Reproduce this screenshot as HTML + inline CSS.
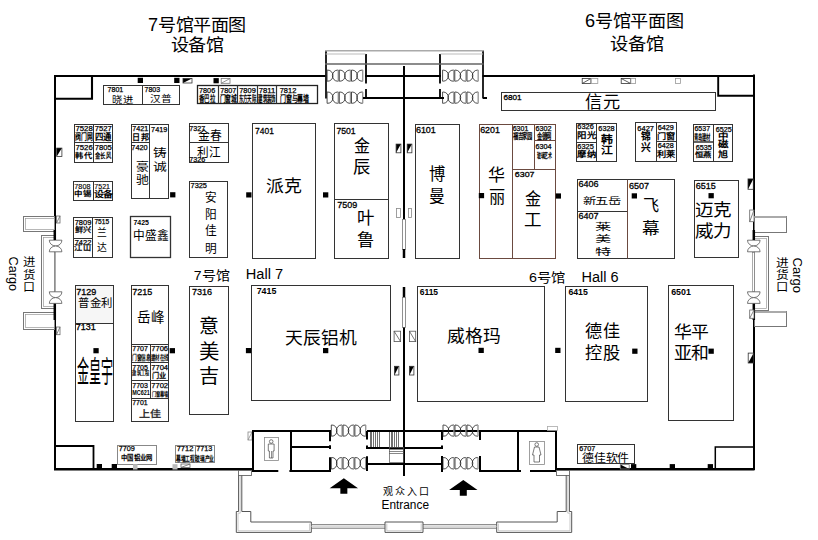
<!DOCTYPE html>
<html lang="zh-CN"><head><meta charset="utf-8"><style>
html,body{margin:0;padding:0;background:#fff;}
svg{display:block;}
text{font-family:"Liberation Sans",sans-serif;}
</style></head><body>
<svg width="818" height="540" viewBox="0 0 818 540">
<rect width="818" height="540" fill="#fff"/>
<text x="148.12" y="31.27" font-size="17.5" font-weight="500" fill="#000" textLength="97.75" lengthAdjust="spacingAndGlyphs">7号馆平面图</text>
<text x="170.62" y="51.27" font-size="17.5" font-weight="500" fill="#000" textLength="52.75" lengthAdjust="spacingAndGlyphs">设备馆</text>
<text x="585.12" y="27.27" font-size="17.5" font-weight="500" fill="#000" textLength="98.25" lengthAdjust="spacingAndGlyphs">6号馆平面图</text>
<text x="610.12" y="50.27" font-size="17.5" font-weight="500" fill="#000" textLength="53.25" lengthAdjust="spacingAndGlyphs">设备馆</text>
<line x1="326" y1="50.5" x2="326" y2="98.5" stroke="#000" stroke-width="1.7" />
<line x1="483" y1="50.5" x2="483" y2="98.5" stroke="#000" stroke-width="1.7" />
<line x1="366" y1="54" x2="366" y2="83.5" stroke="#000" stroke-width="1.8" />
<line x1="366" y1="89" x2="366" y2="98.5" stroke="#000" stroke-width="1.8" />
<line x1="440" y1="54" x2="440" y2="83.5" stroke="#000" stroke-width="1.8" />
<line x1="440" y1="89" x2="440" y2="98.5" stroke="#000" stroke-width="1.8" />
<line x1="325" y1="50.8" x2="483.5" y2="50.8" stroke="#aaa" stroke-width="1.6"/>
<line x1="325.6" y1="54" x2="365.5" y2="54" stroke="#bbb" stroke-width="1"/>
<line x1="440.5" y1="54" x2="483" y2="54" stroke="#bbb" stroke-width="1"/>
<line x1="325" y1="64" x2="483.5" y2="64" stroke="#666" stroke-width="1.5"/>
<path d="M327.10,70.1 H327.77 A5.23,5.55 0 0 1 327.77,81.19999999999999 H327.10 Z" fill="none" stroke="#222" stroke-width="0.8"/>
<path d="M338.30,70.1 H337.63 A5.23,5.55 0 0 0 337.63,81.19999999999999 H338.30" fill="none" stroke="#222" stroke-width="0.8"/>
<line x1="338.30" y1="70.1" x2="338.30" y2="81.19999999999999" stroke="#999" stroke-width="1.4"/>
<path d="M339.30,70.1 H339.97 A5.23,5.55 0 0 1 339.97,81.19999999999999 H339.30 Z" fill="none" stroke="#222" stroke-width="0.8"/>
<path d="M350.50,70.1 H349.83 A5.23,5.55 0 0 0 349.83,81.19999999999999 H350.50" fill="none" stroke="#222" stroke-width="0.8"/>
<line x1="350.50" y1="70.1" x2="350.50" y2="81.19999999999999" stroke="#999" stroke-width="1.4"/>
<path d="M351.50,70.1 H352.17 A5.23,5.55 0 0 1 352.17,81.19999999999999 H351.50 Z" fill="none" stroke="#222" stroke-width="0.8"/>
<path d="M362.70,70.1 H362.03 A5.23,5.55 0 0 0 362.03,81.19999999999999 H362.70" fill="none" stroke="#222" stroke-width="0.8"/>
<line x1="362.70" y1="70.1" x2="362.70" y2="81.19999999999999" stroke="#999" stroke-width="1.4"/>
<path d="M327.10,92 H327.77 A5.23,5.65 0 0 1 327.77,103.3 H327.10 Z" fill="none" stroke="#222" stroke-width="0.8"/>
<path d="M338.30,92 H337.63 A5.23,5.65 0 0 0 337.63,103.3 H338.30" fill="none" stroke="#222" stroke-width="0.8"/>
<line x1="338.30" y1="92" x2="338.30" y2="103.3" stroke="#999" stroke-width="1.4"/>
<path d="M339.30,92 H339.97 A5.23,5.65 0 0 1 339.97,103.3 H339.30 Z" fill="none" stroke="#222" stroke-width="0.8"/>
<path d="M350.50,92 H349.83 A5.23,5.65 0 0 0 349.83,103.3 H350.50" fill="none" stroke="#222" stroke-width="0.8"/>
<line x1="350.50" y1="92" x2="350.50" y2="103.3" stroke="#999" stroke-width="1.4"/>
<path d="M351.50,92 H352.17 A5.23,5.65 0 0 1 352.17,103.3 H351.50 Z" fill="none" stroke="#222" stroke-width="0.8"/>
<path d="M362.70,92 H362.03 A5.23,5.65 0 0 0 362.03,103.3 H362.70" fill="none" stroke="#222" stroke-width="0.8"/>
<line x1="362.70" y1="92" x2="362.70" y2="103.3" stroke="#999" stroke-width="1.4"/>
<path d="M442.60,70.1 H443.27 A5.23,5.55 0 0 1 443.27,81.19999999999999 H442.60 Z" fill="none" stroke="#222" stroke-width="0.8"/>
<path d="M453.80,70.1 H453.13 A5.23,5.55 0 0 0 453.13,81.19999999999999 H453.80" fill="none" stroke="#222" stroke-width="0.8"/>
<line x1="453.80" y1="70.1" x2="453.80" y2="81.19999999999999" stroke="#999" stroke-width="1.4"/>
<path d="M454.80,70.1 H455.47 A5.23,5.55 0 0 1 455.47,81.19999999999999 H454.80 Z" fill="none" stroke="#222" stroke-width="0.8"/>
<path d="M466.00,70.1 H465.33 A5.23,5.55 0 0 0 465.33,81.19999999999999 H466.00" fill="none" stroke="#222" stroke-width="0.8"/>
<line x1="466.00" y1="70.1" x2="466.00" y2="81.19999999999999" stroke="#999" stroke-width="1.4"/>
<path d="M467.00,70.1 H467.67 A5.23,5.55 0 0 1 467.67,81.19999999999999 H467.00 Z" fill="none" stroke="#222" stroke-width="0.8"/>
<path d="M478.20,70.1 H477.53 A5.23,5.55 0 0 0 477.53,81.19999999999999 H478.20" fill="none" stroke="#222" stroke-width="0.8"/>
<line x1="478.20" y1="70.1" x2="478.20" y2="81.19999999999999" stroke="#999" stroke-width="1.4"/>
<path d="M442.60,92 H443.27 A5.23,5.65 0 0 1 443.27,103.3 H442.60 Z" fill="none" stroke="#222" stroke-width="0.8"/>
<path d="M453.80,92 H453.13 A5.23,5.65 0 0 0 453.13,103.3 H453.80" fill="none" stroke="#222" stroke-width="0.8"/>
<line x1="453.80" y1="92" x2="453.80" y2="103.3" stroke="#999" stroke-width="1.4"/>
<path d="M454.80,92 H455.47 A5.23,5.65 0 0 1 455.47,103.3 H454.80 Z" fill="none" stroke="#222" stroke-width="0.8"/>
<path d="M466.00,92 H465.33 A5.23,5.65 0 0 0 465.33,103.3 H466.00" fill="none" stroke="#222" stroke-width="0.8"/>
<line x1="466.00" y1="92" x2="466.00" y2="103.3" stroke="#999" stroke-width="1.4"/>
<path d="M467.00,92 H467.67 A5.23,5.65 0 0 1 467.67,103.3 H467.00 Z" fill="none" stroke="#222" stroke-width="0.8"/>
<path d="M478.20,92 H477.53 A5.23,5.65 0 0 0 477.53,103.3 H478.20" fill="none" stroke="#222" stroke-width="0.8"/>
<line x1="478.20" y1="92" x2="478.20" y2="103.3" stroke="#999" stroke-width="1.4"/>
<line x1="365" y1="76" x2="441" y2="76" stroke="#000" stroke-width="2" />
<line x1="363" y1="98" x2="444" y2="98" stroke="#000" stroke-width="2" />
<line x1="483" y1="98" x2="487" y2="98" stroke="#000" stroke-width="2" />
<line x1="54" y1="76" x2="325.5" y2="76" stroke="#000" stroke-width="2.2" />
<line x1="482.5" y1="76" x2="755" y2="76" stroke="#000" stroke-width="2" />
<line x1="55" y1="75" x2="55" y2="240" stroke="#000" stroke-width="2" />
<line x1="55" y1="303.8" x2="55" y2="470" stroke="#000" stroke-width="2" />
<line x1="754" y1="74.6" x2="754" y2="240" stroke="#000" stroke-width="2" />
<line x1="754" y1="303.8" x2="754" y2="470" stroke="#000" stroke-width="2" />
<rect x="53.50" y="252.50" width="2.00" height="39.00" fill="#fff" stroke="#888" stroke-width="0.7" />
<rect x="752.50" y="252.50" width="2.00" height="39.00" fill="#fff" stroke="#888" stroke-width="0.7" />
<line x1="54" y1="469.2" x2="252.7" y2="469.2" stroke="#000" stroke-width="2.5" />
<line x1="556" y1="469.2" x2="754.5" y2="469.2" stroke="#000" stroke-width="2.5" />
<polyline points="92,76 92,98.8 55,98.8" fill="none" stroke="#000" stroke-width="2.1"/>
<polyline points="718.2,75.6 718.2,95.7 754,95.7" fill="none" stroke="#000" stroke-width="1.9"/>
<polyline points="55,446 93.5,446 93.5,469" fill="none" stroke="#000" stroke-width="1.8"/>
<polyline points="753.5,447 715.3,447 715.3,469" fill="none" stroke="#000" stroke-width="1.5"/>
<rect x="23.50" y="216.50" width="31.00" height="15.00" fill="#fff" stroke="#777" stroke-width="1" />
<rect x="25.50" y="218.50" width="29.00" height="11.00" fill="none" stroke="#999" stroke-width="0.7" />
<rect x="41.50" y="235.50" width="13.00" height="73.00" fill="#fff" stroke="#777" stroke-width="1" />
<rect x="43.50" y="237.50" width="11.00" height="69.00" fill="none" stroke="#999" stroke-width="0.7" />
<rect x="23.50" y="312.50" width="31.00" height="17.00" fill="#fff" stroke="#777" stroke-width="1" />
<rect x="25.50" y="314.50" width="29.00" height="13.00" fill="none" stroke="#999" stroke-width="0.7" />
<path d="M49.300000000000004,240.2 L61.9,240.2 A6.30,5.80 0 0 1 49.300000000000004,240.2 Z" fill="#fff" stroke="#555" stroke-width="0.8"/>
<path d="M49.300000000000004,251.79999999999998 L61.9,251.79999999999998 A6.30,5.80 0 0 0 49.300000000000004,251.79999999999998 Z" fill="#fff" stroke="#555" stroke-width="0.8"/>
<path d="M49.300000000000004,291.8 L61.9,291.8 A6.30,5.80 0 0 1 49.300000000000004,291.8 Z" fill="#fff" stroke="#555" stroke-width="0.8"/>
<path d="M49.300000000000004,303.40000000000003 L61.9,303.40000000000003 A6.30,5.80 0 0 0 49.300000000000004,303.40000000000003 Z" fill="#fff" stroke="#555" stroke-width="0.8"/>
<text x="22.82" y="266.19" font-size="11.5" font-weight="500" fill="#000" textLength="11.85" lengthAdjust="spacingAndGlyphs">进</text>
<text x="22.82" y="278.69" font-size="11.5" font-weight="500" fill="#000" textLength="11.85" lengthAdjust="spacingAndGlyphs">货</text>
<text x="23.03" y="290.69" font-size="11.5" font-weight="500" fill="#000" textLength="11.45" lengthAdjust="spacingAndGlyphs">口</text>
<text x="0" y="0" font-size="13.5" transform="translate(9,256.6) rotate(90)" textLength="34.5" lengthAdjust="spacingAndGlyphs">Cargo</text>
<rect x="754.50" y="216.50" width="32.00" height="16.00" fill="#fff" stroke="#777" stroke-width="1" />
<line x1="754" y1="217" x2="786.3" y2="217" stroke="#aaa" stroke-width="2" />
<rect x="754.50" y="236.50" width="14.00" height="74.00" fill="#fff" stroke="#777" stroke-width="1" />
<rect x="754.50" y="238.50" width="12.00" height="70.00" fill="none" stroke="#999" stroke-width="0.7" />
<rect x="754.50" y="311.50" width="32.00" height="15.00" fill="#fff" stroke="#777" stroke-width="1" />
<line x1="754" y1="312" x2="786.3" y2="312" stroke="#aaa" stroke-width="2" />
<path d="M747.5,240.2 L760.0999999999999,240.2 A6.30,5.80 0 0 1 747.5,240.2 Z" fill="#fff" stroke="#555" stroke-width="0.8"/>
<path d="M747.5,251.79999999999998 L760.0999999999999,251.79999999999998 A6.30,5.80 0 0 0 747.5,251.79999999999998 Z" fill="#fff" stroke="#555" stroke-width="0.8"/>
<path d="M747.5,291.8 L760.0999999999999,291.8 A6.30,5.80 0 0 1 747.5,291.8 Z" fill="#fff" stroke="#555" stroke-width="0.8"/>
<path d="M747.5,303.40000000000003 L760.0999999999999,303.40000000000003 A6.30,5.80 0 0 0 747.5,303.40000000000003 Z" fill="#fff" stroke="#555" stroke-width="0.8"/>
<text x="776.02" y="266.69" font-size="11.5" font-weight="500" fill="#000" textLength="12.15" lengthAdjust="spacingAndGlyphs">进</text>
<text x="776.02" y="279.19" font-size="11.5" font-weight="500" fill="#000" textLength="12.15" lengthAdjust="spacingAndGlyphs">货</text>
<text x="776.22" y="291.00" font-size="11.5" font-weight="500" fill="#000" textLength="11.75" lengthAdjust="spacingAndGlyphs">口</text>
<text x="0" y="0" font-size="13.5" transform="translate(793,257.5) rotate(90)" textLength="35.5" lengthAdjust="spacingAndGlyphs">Cargo</text>
<line x1="54.8" y1="230" x2="54.8" y2="240" stroke="#000" stroke-width="2.5" />
<line x1="54.8" y1="303.8" x2="54.8" y2="320" stroke="#000" stroke-width="2.5" />
<line x1="753.8" y1="230" x2="753.8" y2="240" stroke="#000" stroke-width="2.5" />
<line x1="753.8" y1="303.8" x2="753.8" y2="320" stroke="#000" stroke-width="2.5" />
<line x1="404" y1="66" x2="404" y2="219" stroke="#000" stroke-width="2" />
<rect x="402.50" y="219.50" width="3.00" height="30.00" fill="#fff" stroke="#777" stroke-width="0.8" />
<line x1="404" y1="249" x2="404" y2="258" stroke="#000" stroke-width="2.5" />
<line x1="404" y1="287" x2="404" y2="297.5" stroke="#000" stroke-width="2.5" />
<rect x="402.50" y="297.50" width="3.00" height="30.00" fill="#fff" stroke="#777" stroke-width="0.8" />
<line x1="404" y1="327.5" x2="404" y2="476" stroke="#000" stroke-width="2" />
<rect x="103.50" y="85.50" width="76.00" height="19.00" fill="none" stroke="#333" stroke-width="1" />
<line x1="142.5" y1="85.5" x2="142.5" y2="104.4" stroke="#333" stroke-width="1" />
<rect x="197.50" y="85.50" width="120.00" height="18.00" fill="none" stroke="#222" stroke-width="1.3" />
<line x1="218.5" y1="85.4" x2="218.5" y2="103.7" stroke="#333" stroke-width="1.2" />
<line x1="237.5" y1="85.4" x2="237.5" y2="103.7" stroke="#333" stroke-width="1.2" />
<line x1="257.5" y1="85.4" x2="257.5" y2="103.7" stroke="#333" stroke-width="1.2" />
<line x1="276.5" y1="85.4" x2="276.5" y2="103.7" stroke="#333" stroke-width="1.2" />
<rect x="74.50" y="124.50" width="38.00" height="38.00" fill="none" stroke="#333" stroke-width="1" />
<line x1="93.5" y1="124.1" x2="93.5" y2="162.4" stroke="#333" stroke-width="1" />
<line x1="74.5" y1="142.5" x2="112.8" y2="142.5" stroke="#333" stroke-width="1" />
<rect x="73.50" y="181.50" width="39.00" height="19.00" fill="none" stroke="#333" stroke-width="1" />
<line x1="93.5" y1="181.3" x2="93.5" y2="200.3" stroke="#333" stroke-width="1" />
<rect x="73.50" y="217.50" width="39.00" height="40.00" fill="none" stroke="#333" stroke-width="1" />
<line x1="92.5" y1="217.5" x2="92.5" y2="257.5" stroke="#333" stroke-width="1" />
<line x1="73.5" y1="238.5" x2="92.7" y2="238.5" stroke="#333" stroke-width="1" />
<rect x="131.50" y="124.50" width="37.00" height="74.00" fill="none" stroke="#333" stroke-width="1" />
<line x1="149.5" y1="124.2" x2="149.5" y2="198" stroke="#333" stroke-width="1" />
<line x1="131.1" y1="142.5" x2="149.6" y2="142.5" stroke="#333" stroke-width="1" />
<rect x="130.50" y="216.50" width="40.00" height="41.00" fill="none" stroke="#333" stroke-width="1.3" />
<rect x="189.50" y="123.50" width="39.00" height="39.00" fill="none" stroke="#333" stroke-width="1" />
<line x1="189" y1="142.5" x2="228.1" y2="142.5" stroke="#333" stroke-width="1" />
<rect x="189.50" y="181.50" width="38.00" height="76.00" fill="none" stroke="#333" stroke-width="1" />
<rect x="252.50" y="123.50" width="63.00" height="135.00" fill="none" stroke="#333" stroke-width="1" />
<rect x="334.50" y="123.50" width="54.00" height="135.00" fill="none" stroke="#333" stroke-width="1" />
<line x1="334.5" y1="199.5" x2="388.75" y2="199.5" stroke="#333" stroke-width="1" />
<rect x="75.00" y="285.90" width="38.30" height="37.10" fill="#f6f6f6" stroke="none" stroke-width="0" />
<rect x="75.50" y="285.50" width="38.00" height="136.00" fill="none" stroke="#333" stroke-width="1" />
<line x1="75" y1="323.5" x2="113.3" y2="323.5" stroke="#333" stroke-width="1" />
<rect x="131.50" y="285.50" width="37.00" height="136.00" fill="none" stroke="#333" stroke-width="1" />
<line x1="131.4" y1="344.5" x2="168.6" y2="344.5" stroke="#333" stroke-width="1" />
<line x1="131.4" y1="362.5" x2="168.6" y2="362.5" stroke="#333" stroke-width="1" />
<line x1="131.4" y1="380.5" x2="168.6" y2="380.5" stroke="#333" stroke-width="1" />
<line x1="131.4" y1="398.5" x2="168.6" y2="398.5" stroke="#333" stroke-width="1" />
<line x1="150.5" y1="344.2" x2="150.5" y2="398.9" stroke="#333" stroke-width="1" />
<rect x="189.50" y="286.50" width="39.00" height="128.00" fill="none" stroke="#333" stroke-width="1" />
<rect x="251.50" y="285.50" width="139.00" height="115.00" fill="none" stroke="#333" stroke-width="1" />
<rect x="117.50" y="445.50" width="39.00" height="19.00" fill="none" stroke="#888" stroke-width="1" />
<rect x="175.50" y="445.50" width="39.00" height="17.00" fill="none" stroke="#888" stroke-width="1" />
<line x1="195.5" y1="445" x2="195.5" y2="462.5" stroke="#888" stroke-width="1" />
<rect x="501.50" y="92.50" width="214.00" height="18.00" fill="none" stroke="#333" stroke-width="1" />
<rect x="415.50" y="124.50" width="44.00" height="134.00" fill="none" stroke="#333" stroke-width="1" />
<rect x="479.50" y="124.50" width="76.00" height="134.00" fill="none" stroke="#6b4a40" stroke-width="1" />
<line x1="512.5" y1="124" x2="512.5" y2="258.5" stroke="#6b4a40" stroke-width="1" />
<line x1="512.2" y1="169.5" x2="555.3" y2="169.5" stroke="#6b4a40" stroke-width="1" />
<line x1="534.5" y1="124" x2="534.5" y2="169" stroke="#6b4a40" stroke-width="1" />
<line x1="534" y1="140.5" x2="555.3" y2="140.5" stroke="#6b4a40" stroke-width="1" />
<rect x="576.50" y="123.50" width="40.00" height="38.00" fill="none" stroke="#333" stroke-width="1" />
<line x1="596.5" y1="123.4" x2="596.5" y2="161.7" stroke="#333" stroke-width="1" />
<line x1="576" y1="142.5" x2="596.6" y2="142.5" stroke="#333" stroke-width="1" />
<rect x="635.50" y="122.50" width="41.00" height="39.00" fill="none" stroke="#333" stroke-width="1" />
<line x1="656.5" y1="122.3" x2="656.5" y2="161.7" stroke="#333" stroke-width="1" />
<line x1="656" y1="141.5" x2="676.6" y2="141.5" stroke="#333" stroke-width="1" />
<rect x="693.50" y="124.50" width="39.00" height="37.00" fill="none" stroke="#333" stroke-width="1" />
<line x1="713.5" y1="124.2" x2="713.5" y2="161.6" stroke="#333" stroke-width="1" />
<line x1="693.2" y1="142" x2="713.3" y2="142" stroke="#333" stroke-width="1.5" />
<rect x="577.50" y="179.50" width="97.00" height="79.00" fill="none" stroke="#333" stroke-width="1" />
<line x1="627.5" y1="179.8" x2="627.5" y2="258.5" stroke="#6b4a40" stroke-width="1" />
<line x1="577.3" y1="211.5" x2="627.3" y2="211.5" stroke="#333" stroke-width="1" />
<rect x="694.50" y="180.50" width="44.00" height="77.00" fill="none" stroke="#333" stroke-width="1" />
<rect x="417.50" y="286.50" width="127.00" height="115.00" fill="none" stroke="#333" stroke-width="1" />
<rect x="565.50" y="286.50" width="82.00" height="115.00" fill="none" stroke="#333" stroke-width="1" />
<rect x="668.50" y="285.50" width="65.00" height="135.00" fill="none" stroke="#333" stroke-width="1" />
<rect x="577.50" y="444.50" width="57.00" height="19.00" fill="none" stroke="#333" stroke-width="1" />
<text x="193.85" y="280.09" font-size="13" font-weight="500" fill="#000" textLength="35.80" lengthAdjust="spacingAndGlyphs">7号馆</text>
<text x="245.74" y="278.60" font-size="14" font-weight="400" textLength="37.32" lengthAdjust="spacingAndGlyphs">Hall 7</text>
<text x="529.05" y="281.69" font-size="13" font-weight="500" fill="#000" textLength="36.60" lengthAdjust="spacingAndGlyphs">6号馆</text>
<text x="581.44" y="282.00" font-size="14" font-weight="400" textLength="37.12" lengthAdjust="spacingAndGlyphs">Hall 6</text>
<text x="266.25" y="191.51" font-size="17" font-weight="500" fill="#000" textLength="35.80" lengthAdjust="spacingAndGlyphs">派克</text>
<text x="353.78" y="152.15" font-size="16.5" font-weight="500" fill="#000" textLength="16.45" lengthAdjust="spacingAndGlyphs">金</text>
<text x="353.07" y="173.25" font-size="16.5" font-weight="500" fill="#000" textLength="17.85" lengthAdjust="spacingAndGlyphs">辰</text>
<text x="357.48" y="223.94" font-size="16.5" font-weight="500" fill="#000" textLength="17.95" lengthAdjust="spacingAndGlyphs">叶</text>
<text x="357.48" y="245.54" font-size="16.5" font-weight="500" fill="#000" textLength="17.95" lengthAdjust="spacingAndGlyphs">鲁</text>
<text x="429.07" y="180.04" font-size="16.5" font-weight="500" fill="#000" textLength="16.85" lengthAdjust="spacingAndGlyphs">博</text>
<text x="429.07" y="202.34" font-size="16.5" font-weight="500" fill="#000" textLength="16.35" lengthAdjust="spacingAndGlyphs">曼</text>
<text x="488.38" y="181.15" font-size="16.5" font-weight="500" fill="#000" textLength="17.45" lengthAdjust="spacingAndGlyphs">华</text>
<text x="488.78" y="202.84" font-size="16.5" font-weight="500" fill="#000" textLength="16.65" lengthAdjust="spacingAndGlyphs">丽</text>
<text x="525.38" y="205.04" font-size="16.5" font-weight="500" fill="#000" textLength="16.55" lengthAdjust="spacingAndGlyphs">金</text>
<text x="524.38" y="225.75" font-size="16.5" font-weight="500" fill="#000" textLength="18.05" lengthAdjust="spacingAndGlyphs">工</text>
<text x="285.15" y="343.81" font-size="17" font-weight="500" fill="#000" textLength="71.20" lengthAdjust="spacingAndGlyphs">天辰铝机</text>
<text x="447.45" y="342.31" font-size="17" font-weight="500" fill="#000" textLength="53.20" lengthAdjust="spacingAndGlyphs">威格玛</text>
<text x="585.17" y="337.35" font-size="16.5" font-weight="500" fill="#000" textLength="35.35" lengthAdjust="spacingAndGlyphs">德佳</text>
<text x="585.17" y="359.35" font-size="16.5" font-weight="500" fill="#000" textLength="35.35" lengthAdjust="spacingAndGlyphs">控股</text>
<text x="673.62" y="337.77" font-size="17.5" font-weight="500" fill="#000" textLength="34.75" lengthAdjust="spacingAndGlyphs">华平</text>
<text x="673.62" y="359.27" font-size="17.5" font-weight="500" fill="#000" textLength="34.75" lengthAdjust="spacingAndGlyphs">亚和</text>
<text x="695.38" y="216.28" font-size="17.5" font-weight="500" fill="#000" textLength="36.00" lengthAdjust="spacingAndGlyphs">迈克</text>
<text x="695.38" y="236.78" font-size="17.5" font-weight="500" fill="#000" textLength="36.00" lengthAdjust="spacingAndGlyphs">威力</text>
<text x="585.47" y="108.14" font-size="16.5" font-weight="500" fill="#000" textLength="35.35" lengthAdjust="spacingAndGlyphs">信元</text>
<text x="199.33" y="332.63" font-size="19.5" font-weight="500" fill="#000" textLength="20.35" lengthAdjust="spacingAndGlyphs">意</text>
<text x="199.30" y="359.10" font-size="20" font-weight="500" fill="#000" textLength="20.40" lengthAdjust="spacingAndGlyphs">美</text>
<text x="199.35" y="382.67" font-size="19" font-weight="500" fill="#000" textLength="20.30" lengthAdjust="spacingAndGlyphs">吉</text>
<text x="643.00" y="211.38" font-size="16" font-weight="500" fill="#000" textLength="16.10" lengthAdjust="spacingAndGlyphs">飞</text>
<text x="642.20" y="233.88" font-size="16" font-weight="500" fill="#000" textLength="17.60" lengthAdjust="spacingAndGlyphs">幕</text>
<text x="76.83" y="382.24" font-size="29.5" font-weight="500" fill="#000" textLength="36.75" lengthAdjust="spacingAndGlyphs">金皇宇</text>
<text x="137.30" y="322.02" font-size="14" font-weight="500" fill="#000" textLength="27.10" lengthAdjust="spacingAndGlyphs">岳峰</text>
<text x="78.15" y="307.23" font-size="11" font-weight="500" fill="#000" textLength="34.10" lengthAdjust="spacingAndGlyphs">普金利</text>
<text x="582.53" y="204.35" font-size="9.3" font-weight="normal" fill="#000" textLength="38.63" lengthAdjust="spacingAndGlyphs">新五岳</text>
<text x="594.92" y="230.14" font-size="9.5" font-weight="normal" fill="#000" textLength="17.05" lengthAdjust="spacingAndGlyphs">莱</text>
<text x="594.92" y="242.24" font-size="9.5" font-weight="normal" fill="#000" textLength="17.05" lengthAdjust="spacingAndGlyphs">美</text>
<text x="594.92" y="255.14" font-size="9.5" font-weight="normal" fill="#000" textLength="17.05" lengthAdjust="spacingAndGlyphs">特</text>
<text x="138.62" y="417.03" font-size="9.5" font-weight="bold" fill="#333" textLength="23.15" lengthAdjust="spacingAndGlyphs">上佳</text>
<text x="112.23" y="102.53" font-size="9.5" font-weight="500" fill="#000" textLength="21.75" lengthAdjust="spacingAndGlyphs">晓进</text>
<text x="149.72" y="102.23" font-size="9.5" font-weight="500" fill="#000" textLength="22.45" lengthAdjust="spacingAndGlyphs">汉普</text>
<text x="197.57" y="140.32" font-size="12.5" font-weight="500" fill="#000" textLength="24.55" lengthAdjust="spacingAndGlyphs">金春</text>
<text x="197.18" y="157.43" font-size="12.5" font-weight="500" fill="#000" textLength="24.15" lengthAdjust="spacingAndGlyphs">利江</text>
<text x="135.73" y="170.69" font-size="11.5" font-weight="500" fill="#000" textLength="12.25" lengthAdjust="spacingAndGlyphs">豪</text>
<text x="135.73" y="184.00" font-size="11.5" font-weight="500" fill="#000" textLength="12.25" lengthAdjust="spacingAndGlyphs">驰</text>
<text x="153.43" y="156.59" font-size="11.5" font-weight="500" fill="#000" textLength="13.15" lengthAdjust="spacingAndGlyphs">铸</text>
<text x="153.43" y="171.39" font-size="11.5" font-weight="500" fill="#000" textLength="13.15" lengthAdjust="spacingAndGlyphs">诚</text>
<text x="132.17" y="140.00" font-size="8.5" font-weight="bold" fill="#000" textLength="17.15" lengthAdjust="spacingAndGlyphs">日邦</text>
<text x="97.17" y="236.46" font-size="10.5" font-weight="500" fill="#000" textLength="9.35" lengthAdjust="spacingAndGlyphs">兰</text>
<text x="97.17" y="251.06" font-size="10.5" font-weight="500" fill="#000" textLength="9.35" lengthAdjust="spacingAndGlyphs">达</text>
<text x="133.30" y="240.46" font-size="12" font-weight="500" fill="#000" textLength="35.20" lengthAdjust="spacingAndGlyphs">中盛鑫</text>
<text x="601.27" y="142.86" font-size="10.5" font-weight="bold" fill="#000" textLength="11.25" lengthAdjust="spacingAndGlyphs">韩</text>
<text x="601.27" y="154.46" font-size="10.5" font-weight="bold" fill="#000" textLength="11.25" lengthAdjust="spacingAndGlyphs">江</text>
<text x="641.40" y="140.30" font-size="10" font-weight="bold" fill="#000" textLength="9.70" lengthAdjust="spacingAndGlyphs">锦</text>
<text x="641.40" y="151.10" font-size="10" font-weight="bold" fill="#000" textLength="9.70" lengthAdjust="spacingAndGlyphs">兴</text>
<text x="718.30" y="139.44" font-size="8" font-weight="bold" fill="#000" textLength="10.50" lengthAdjust="spacingAndGlyphs">中</text>
<text x="718.30" y="147.44" font-size="8" font-weight="bold" fill="#000" textLength="10.50" lengthAdjust="spacingAndGlyphs">磁</text>
<text x="718.28" y="157.21" font-size="8.5" font-weight="bold" fill="#000" textLength="10.55" lengthAdjust="spacingAndGlyphs">旭</text>
<text x="581.95" y="462.43" font-size="11" font-weight="500" fill="#000" textLength="47.35" lengthAdjust="spacingAndGlyphs">德佳软件</text>
<text x="576.68" y="137.81" font-size="8.5" font-weight="bold" fill="#000" textLength="19.95" lengthAdjust="spacingAndGlyphs">阳光</text>
<text x="656.90" y="138.84" font-size="8" font-weight="bold" fill="#000" textLength="18.30" lengthAdjust="spacingAndGlyphs">门窗</text>
<text x="656.90" y="156.64" font-size="8" font-weight="bold" fill="#000" textLength="18.30" lengthAdjust="spacingAndGlyphs">利莱</text>
<text x="577.20" y="156.64" font-size="8" font-weight="bold" fill="#000" textLength="18.70" lengthAdjust="spacingAndGlyphs">摩纳</text>
<text x="198.85" y="101.77" font-size="9" font-weight="bold" fill="#000" textLength="16.40" lengthAdjust="spacingAndGlyphs">香巴拉</text>
<text x="219.55" y="101.77" font-size="9" font-weight="bold" fill="#000" textLength="17.40" lengthAdjust="spacingAndGlyphs">门窗城</text>
<text x="238.55" y="101.77" font-size="9" font-weight="bold" fill="#000" textLength="17.90" lengthAdjust="spacingAndGlyphs">东方天际</text>
<text x="258.05" y="101.77" font-size="9" font-weight="bold" fill="#000" textLength="17.90" lengthAdjust="spacingAndGlyphs">建筑装饰</text>
<text x="279.55" y="101.77" font-size="9" font-weight="bold" fill="#000" textLength="29.90" lengthAdjust="spacingAndGlyphs">门窗与幕墙</text>
<text x="75.06" y="139.69" font-size="8.7" font-weight="bold" fill="#000" textLength="18.37" lengthAdjust="spacingAndGlyphs">阀门网</text>
<text x="94.56" y="139.69" font-size="8.7" font-weight="bold" fill="#000" textLength="17.37" lengthAdjust="spacingAndGlyphs">四通</text>
<text x="75.17" y="157.84" font-size="6.5" font-weight="bold" fill="#000" textLength="17.65" lengthAdjust="spacingAndGlyphs">韩代</text>
<text x="94.67" y="157.84" font-size="6.5" font-weight="bold" fill="#000" textLength="17.15" lengthAdjust="spacingAndGlyphs">金长风</text>
<text x="74.26" y="195.52" font-size="6.8" font-weight="bold" fill="#000" textLength="17.38" lengthAdjust="spacingAndGlyphs">中锡</text>
<text x="93.62" y="196.97" font-size="7.5" font-weight="bold" fill="#000" textLength="18.55" lengthAdjust="spacingAndGlyphs">设备</text>
<text x="74.66" y="232.02" font-size="6.8" font-weight="bold" fill="#000" textLength="17.18" lengthAdjust="spacingAndGlyphs">鲜兴</text>
<text x="74.17" y="250.34" font-size="6.5" font-weight="bold" fill="#000" textLength="17.65" lengthAdjust="spacingAndGlyphs">江山</text>
<text x="132.19" y="360.06" font-size="6.3" font-weight="bold" fill="#000" textLength="18.13" lengthAdjust="spacingAndGlyphs">门窗信息</text>
<text x="151.19" y="360.06" font-size="6.3" font-weight="bold" fill="#000" textLength="17.13" lengthAdjust="spacingAndGlyphs">建材在线</text>
<text x="132.21" y="375.29" font-size="5.8" font-weight="bold" fill="#000" textLength="17.58" lengthAdjust="spacingAndGlyphs">建筑工程</text>
<text x="151.64" y="377.50" font-size="7.2" font-weight="bold" fill="#000" textLength="13.92" lengthAdjust="spacingAndGlyphs">门业</text>
<text x="132.22" y="395.40" font-size="7" font-weight="bold" textLength="17.56" lengthAdjust="spacingAndGlyphs">MC621</text>
<text x="151.70" y="395.58" font-size="6" font-weight="bold" fill="#000" textLength="16.60" lengthAdjust="spacingAndGlyphs">门窗幕墙</text>
<text x="120.95" y="460.01" font-size="7" font-weight="bold" fill="#000" textLength="31.90" lengthAdjust="spacingAndGlyphs">中国铝业网</text>
<text x="175.95" y="461.01" font-size="7" font-weight="bold" fill="#000" textLength="18.90" lengthAdjust="spacingAndGlyphs">幕墙工程</text>
<text x="195.15" y="461.01" font-size="7" font-weight="bold" fill="#000" textLength="18.90" lengthAdjust="spacingAndGlyphs">玻璃产业</text>
<text x="512.62" y="138.97" font-size="7.5" font-weight="bold" fill="#000" textLength="19.75" lengthAdjust="spacingAndGlyphs">福吉家园</text>
<text x="536.62" y="139.47" font-size="7.5" font-weight="bold" fill="#000" textLength="14.75" lengthAdjust="spacingAndGlyphs">金德网</text>
<text x="536.65" y="158.26" font-size="7" font-weight="bold" fill="#000" textLength="15.70" lengthAdjust="spacingAndGlyphs">玻璃艺术</text>
<text x="694.33" y="139.67" font-size="7.5" font-weight="bold" fill="#000" textLength="16.05" lengthAdjust="spacingAndGlyphs">青岛建材</text>
<text x="694.66" y="156.62" font-size="6.8" font-weight="bold" fill="#000" textLength="17.18" lengthAdjust="spacingAndGlyphs">恒燕</text>
<text x="255.12" y="133.75" font-size="9.4" font-weight="normal" stroke="#000" stroke-width="0.3" textLength="18.75" lengthAdjust="spacingAndGlyphs">7401</text>
<text x="336.43" y="133.70" font-size="9.2" font-weight="normal" stroke="#000" stroke-width="0.3" textLength="19.24" lengthAdjust="spacingAndGlyphs">7501</text>
<text x="337.23" y="207.80" font-size="9.3" font-weight="normal" stroke="#000" stroke-width="0.3" textLength="20.04" lengthAdjust="spacingAndGlyphs">7509</text>
<text x="415.91" y="132.50" font-size="8.5" font-weight="normal" stroke="#000" stroke-width="0.3" textLength="19.93" lengthAdjust="spacingAndGlyphs">6101</text>
<text x="480.16" y="132.50" font-size="8.5" font-weight="normal" stroke="#000" stroke-width="0.3" textLength="19.68" lengthAdjust="spacingAndGlyphs">6201</text>
<text x="514.78" y="177.30" font-size="8" font-weight="normal" stroke="#000" stroke-width="0.3" textLength="19.74" lengthAdjust="spacingAndGlyphs">6307</text>
<text x="256.64" y="293.70" font-size="9" font-weight="bold" textLength="19.72" lengthAdjust="spacingAndGlyphs">7415</text>
<text x="419.66" y="295.00" font-size="8.5" font-weight="bold">6115</text>
<text x="568.41" y="294.50" font-size="8.5" font-weight="bold" textLength="19.43" lengthAdjust="spacingAndGlyphs">6415</text>
<text x="671.16" y="294.50" font-size="8.5" font-weight="bold" textLength="19.68" lengthAdjust="spacingAndGlyphs">6501</text>
<text x="503.43" y="100.00" font-size="8" font-weight="normal" stroke="#000" stroke-width="0.3" textLength="18.14" lengthAdjust="spacingAndGlyphs">6801</text>
<text x="132.14" y="294.80" font-size="9" font-weight="normal" stroke="#000" stroke-width="0.3">7215</text>
<text x="191.94" y="294.80" font-size="9" font-weight="normal" stroke="#000" stroke-width="0.3">7316</text>
<text x="76.34" y="294.80" font-size="9" font-weight="normal" stroke="#000" stroke-width="0.3">7129</text>
<text x="75.64" y="329.80" font-size="9" font-weight="normal" stroke="#000" stroke-width="0.3">7131</text>
<text x="578.44" y="187.10" font-size="9" font-weight="normal" stroke="#000" stroke-width="0.3">6406</text>
<text x="578.44" y="219.40" font-size="9" font-weight="normal" stroke="#000" stroke-width="0.3">6407</text>
<text x="628.94" y="188.70" font-size="9" font-weight="normal" stroke="#000" stroke-width="0.3">6507</text>
<text x="695.64" y="188.75" font-size="9" font-weight="normal" stroke="#000" stroke-width="0.3">6515</text>
<text x="107.52" y="91.60" font-size="7" font-weight="normal" stroke="#000" stroke-width="0.25" textLength="15.76" lengthAdjust="spacingAndGlyphs">7801</text>
<text x="144.52" y="91.60" font-size="7" font-weight="normal" stroke="#000" stroke-width="0.25" textLength="15.56" lengthAdjust="spacingAndGlyphs">7803</text>
<text x="199.02" y="93.00" font-size="7" font-weight="normal" stroke="#000" stroke-width="0.25" textLength="16.16" lengthAdjust="spacingAndGlyphs">7806</text>
<text x="220.22" y="93.00" font-size="7" font-weight="normal" stroke="#000" stroke-width="0.25" textLength="16.06" lengthAdjust="spacingAndGlyphs">7807</text>
<text x="239.22" y="93.00" font-size="7" font-weight="normal" stroke="#000" stroke-width="0.25" textLength="16.56" lengthAdjust="spacingAndGlyphs">7809</text>
<text x="258.72" y="93.00" font-size="7" font-weight="normal" stroke="#000" stroke-width="0.25" textLength="16.56" lengthAdjust="spacingAndGlyphs">7811</text>
<text x="279.72" y="93.00" font-size="7" font-weight="normal" stroke="#000" stroke-width="0.25" textLength="16.56" lengthAdjust="spacingAndGlyphs">7812</text>
<text x="75.42" y="131.00" font-size="7" font-weight="normal" stroke="#000" stroke-width="0.25" textLength="17.36" lengthAdjust="spacingAndGlyphs">7528</text>
<text x="94.72" y="131.00" font-size="7" font-weight="normal" stroke="#000" stroke-width="0.25" textLength="17.06" lengthAdjust="spacingAndGlyphs">7527</text>
<text x="75.42" y="149.50" font-size="7" font-weight="normal" stroke="#000" stroke-width="0.25" textLength="17.36" lengthAdjust="spacingAndGlyphs">7526</text>
<text x="94.72" y="149.50" font-size="7" font-weight="normal" stroke="#000" stroke-width="0.25" textLength="17.06" lengthAdjust="spacingAndGlyphs">7805</text>
<text x="74.34" y="188.70" font-size="6.5" font-weight="normal" stroke="#000" stroke-width="0.15" textLength="16.12" lengthAdjust="spacingAndGlyphs">7808</text>
<text x="94.34" y="188.70" font-size="6.5" font-weight="normal" stroke="#000" stroke-width="0.15" textLength="15.62" lengthAdjust="spacingAndGlyphs">7521</text>
<text x="74.72" y="224.70" font-size="7" font-weight="normal" stroke="#000" stroke-width="0.25" textLength="16.56" lengthAdjust="spacingAndGlyphs">7809</text>
<text x="94.42" y="223.80" font-size="7" font-weight="normal" stroke="#000" stroke-width="0.25" textLength="14.66" lengthAdjust="spacingAndGlyphs">7515</text>
<text x="74.72" y="244.70" font-size="7" font-weight="normal" stroke="#000" stroke-width="0.25" textLength="16.56" lengthAdjust="spacingAndGlyphs">7422</text>
<text x="132.32" y="131.00" font-size="7" font-weight="normal" stroke="#000" stroke-width="0.25" textLength="15.96" lengthAdjust="spacingAndGlyphs">7421</text>
<text x="151.12" y="132.00" font-size="7" font-weight="normal" stroke="#000" stroke-width="0.25" textLength="16.16" lengthAdjust="spacingAndGlyphs">7419</text>
<text x="131.32" y="149.80" font-size="7" font-weight="normal" stroke="#000" stroke-width="0.25" textLength="16.36" lengthAdjust="spacingAndGlyphs">7420</text>
<text x="189.32" y="130.60" font-size="7" font-weight="normal" stroke="#000" stroke-width="0.25" textLength="15.96" lengthAdjust="spacingAndGlyphs">7327</text>
<text x="189.32" y="162.10" font-size="7" font-weight="normal" stroke="#000" stroke-width="0.25" textLength="15.96" lengthAdjust="spacingAndGlyphs">7326</text>
<text x="190.52" y="188.00" font-size="7" font-weight="normal" stroke="#000" stroke-width="0.25" textLength="16.46" lengthAdjust="spacingAndGlyphs">7325</text>
<text x="205.20" y="201.86" font-size="12" font-weight="500" fill="#000" textLength="11.70" lengthAdjust="spacingAndGlyphs">安</text>
<text x="205.20" y="218.66" font-size="12" font-weight="500" fill="#000" textLength="11.70" lengthAdjust="spacingAndGlyphs">阳</text>
<text x="205.20" y="235.16" font-size="12" font-weight="500" fill="#000" textLength="11.70" lengthAdjust="spacingAndGlyphs">佳</text>
<text x="205.20" y="252.66" font-size="12" font-weight="500" fill="#000" textLength="11.70" lengthAdjust="spacingAndGlyphs">明</text>
<text x="132.22" y="351.40" font-size="7" font-weight="normal" stroke="#000" stroke-width="0.25" textLength="15.76" lengthAdjust="spacingAndGlyphs">7707</text>
<text x="151.22" y="351.40" font-size="7" font-weight="normal" stroke="#000" stroke-width="0.25" textLength="16.86" lengthAdjust="spacingAndGlyphs">7706</text>
<text x="132.22" y="370.00" font-size="7" font-weight="normal" stroke="#000" stroke-width="0.25" textLength="15.76" lengthAdjust="spacingAndGlyphs">7705</text>
<text x="151.22" y="370.00" font-size="7" font-weight="normal" stroke="#000" stroke-width="0.25" textLength="16.86" lengthAdjust="spacingAndGlyphs">7704</text>
<text x="132.22" y="387.80" font-size="7" font-weight="normal" stroke="#000" stroke-width="0.25" textLength="15.76" lengthAdjust="spacingAndGlyphs">7703</text>
<text x="151.22" y="387.80" font-size="7" font-weight="normal" stroke="#000" stroke-width="0.25" textLength="16.86" lengthAdjust="spacingAndGlyphs">7702</text>
<text x="132.22" y="405.00" font-size="7" font-weight="normal" stroke="#000" stroke-width="0.25" textLength="15.46" lengthAdjust="spacingAndGlyphs">7701</text>
<text x="133.42" y="224.90" font-size="7" font-weight="bold" textLength="15.46" lengthAdjust="spacingAndGlyphs">7425</text>
<text x="118.70" y="451.00" font-size="7.5" font-weight="normal" stroke="#000" stroke-width="0.25" textLength="16.10" lengthAdjust="spacingAndGlyphs">7709</text>
<text x="176.70" y="451.00" font-size="7.5" font-weight="normal" stroke="#000" stroke-width="0.25" textLength="16.60" lengthAdjust="spacingAndGlyphs">7712</text>
<text x="196.20" y="451.00" font-size="7.5" font-weight="normal" stroke="#000" stroke-width="0.25" textLength="16.10" lengthAdjust="spacingAndGlyphs">7713</text>
<text x="579.22" y="451.30" font-size="7" font-weight="normal" stroke="#000" stroke-width="0.25" textLength="16.06" lengthAdjust="spacingAndGlyphs">6707</text>
<text x="512.72" y="130.50" font-size="7" font-weight="normal" stroke="#000" stroke-width="0.25" textLength="15.56" lengthAdjust="spacingAndGlyphs">6301</text>
<text x="535.47" y="131.25" font-size="7" font-weight="normal" stroke="#000" stroke-width="0.25" textLength="16.06" lengthAdjust="spacingAndGlyphs">6302</text>
<text x="535.47" y="148.75" font-size="7" font-weight="normal" stroke="#000" stroke-width="0.25" textLength="16.06" lengthAdjust="spacingAndGlyphs">6304</text>
<text x="577.32" y="128.80" font-size="7" font-weight="normal" stroke="#000" stroke-width="0.25" textLength="16.46" lengthAdjust="spacingAndGlyphs">6326</text>
<text x="598.32" y="130.80" font-size="7" font-weight="normal" stroke="#000" stroke-width="0.25" textLength="16.26" lengthAdjust="spacingAndGlyphs">6328</text>
<text x="577.32" y="148.90" font-size="7" font-weight="normal" stroke="#000" stroke-width="0.25" textLength="16.46" lengthAdjust="spacingAndGlyphs">6325</text>
<text x="637.32" y="130.80" font-size="7" font-weight="normal" stroke="#000" stroke-width="0.25" textLength="16.66" lengthAdjust="spacingAndGlyphs">6427</text>
<text x="657.72" y="129.80" font-size="7" font-weight="normal" stroke="#000" stroke-width="0.25" textLength="16.06" lengthAdjust="spacingAndGlyphs">6429</text>
<text x="657.72" y="148.20" font-size="7" font-weight="normal" stroke="#000" stroke-width="0.25" textLength="16.06" lengthAdjust="spacingAndGlyphs">6428</text>
<text x="694.42" y="131.30" font-size="7" font-weight="normal" stroke="#000" stroke-width="0.25" textLength="15.66" lengthAdjust="spacingAndGlyphs">6537</text>
<text x="695.72" y="149.60" font-size="7" font-weight="normal" stroke="#000" stroke-width="0.25" textLength="16.16" lengthAdjust="spacingAndGlyphs">6535</text>
<text x="715.72" y="131.50" font-size="7" font-weight="normal" stroke="#000" stroke-width="0.25" textLength="15.96" lengthAdjust="spacingAndGlyphs">6525</text>
<rect x="137.70" y="77.80" width="5.30" height="5.20" fill="#000"/>
<rect x="174.20" y="77.80" width="5.30" height="5.20" fill="#000"/>
<rect x="213.50" y="78.10" width="5.30" height="5.20" fill="#000"/>
<rect x="170.10" y="192.20" width="5.30" height="5.20" fill="#000"/>
<rect x="246.20" y="192.30" width="5.30" height="5.20" fill="#000"/>
<rect x="323.00" y="192.30" width="5.30" height="5.20" fill="#000"/>
<rect x="478.80" y="193.00" width="5.30" height="5.20" fill="#000"/>
<rect x="555.70" y="193.40" width="5.30" height="5.20" fill="#000"/>
<rect x="631.70" y="193.30" width="5.30" height="5.20" fill="#000"/>
<rect x="708.50" y="193.10" width="5.30" height="5.20" fill="#000"/>
<rect x="93.40" y="348.10" width="5.30" height="5.20" fill="#000"/>
<rect x="169.70" y="348.10" width="5.30" height="5.20" fill="#000"/>
<rect x="245.90" y="348.00" width="5.30" height="5.20" fill="#000"/>
<rect x="323.00" y="348.00" width="5.30" height="5.20" fill="#000"/>
<rect x="478.50" y="347.80" width="5.30" height="5.20" fill="#000"/>
<rect x="555.20" y="347.80" width="5.30" height="5.20" fill="#000"/>
<rect x="632.20" y="348.60" width="5.30" height="5.20" fill="#000"/>
<rect x="708.50" y="348.60" width="5.30" height="5.20" fill="#000"/>
<rect x="96.70" y="464.00" width="5.30" height="5.20" fill="#000"/>
<rect x="111.70" y="464.00" width="5.30" height="5.20" fill="#000"/>
<rect x="631.00" y="464.10" width="5.30" height="5.20" fill="#000"/>
<rect x="669.70" y="464.10" width="5.30" height="5.20" fill="#000"/>
<rect x="707.70" y="464.10" width="5.30" height="5.20" fill="#000"/>
<rect x="133.00" y="464.20" width="4.50" height="5.30" fill="#bbb"/>
<rect x="172.50" y="464.20" width="5.00" height="5.30" fill="#bbb"/>
<polygon points="183,78.5 192,78.5 183,83" fill="#000"/>
<rect x="183.00" y="78.50" width="9.00" height="4.50" fill="none" stroke="#333" stroke-width="0.8" />
<rect x="221.20" y="78.50" width="8.80" height="4.80" fill="#fff" stroke="#777" stroke-width="0.8" />
<line x1="221.2" y1="83.3" x2="230" y2="78.5" stroke="#777" stroke-width="0.8" />
<polygon points="56.7,148.1 61.9,148.1 56.7,156.5" fill="#000"/>
<rect x="56.70" y="148.10" width="5.20" height="8.40" fill="none" stroke="#333" stroke-width="0.8" />
<polygon points="396.1,144.1 400.9,144.1 396.1,152.8" fill="#000"/>
<rect x="396.10" y="144.10" width="4.80" height="8.70" fill="none" stroke="#333" stroke-width="0.8" />
<polygon points="407.2,144.1 411.9,144.1 407.2,152.8" fill="#000"/>
<rect x="407.20" y="144.10" width="4.70" height="8.70" fill="none" stroke="#333" stroke-width="0.8" />
<rect x="396.50" y="208.50" width="4.00" height="9.00" fill="none" stroke="#888" stroke-width="0.8" />
<rect x="408.50" y="208.50" width="3.00" height="9.00" fill="none" stroke="#888" stroke-width="0.8" />
<rect x="394.10" y="331.20" width="6.50" height="10.40" fill="#fff" stroke="#555" stroke-width="0.8" />
<line x1="394.1" y1="331.2" x2="400.6" y2="341.6" stroke="#555" stroke-width="0.8" />
<rect x="409.40" y="331.20" width="6.30" height="10.40" fill="#fff" stroke="#555" stroke-width="0.8" />
<line x1="409.4" y1="331.2" x2="415.7" y2="341.6" stroke="#555" stroke-width="0.8" />
<polygon points="394.5,366.3 398.9,366.3 394.5,375" fill="#000"/>
<rect x="394.50" y="366.30" width="4.40" height="8.70" fill="none" stroke="#333" stroke-width="0.8" />
<polygon points="409.5,366.3 413.9,366.3 409.5,375" fill="#000"/>
<rect x="409.50" y="366.30" width="4.40" height="8.70" fill="none" stroke="#333" stroke-width="0.8" />
<polygon points="748,178.9 753.3,178.9 748,189.3" fill="#000"/>
<rect x="748.00" y="178.90" width="5.30" height="10.40" fill="none" stroke="#333" stroke-width="0.8" />
<rect x="56.50" y="216.00" width="3.50" height="7.00" fill="#fff" stroke="#666" stroke-width="0.8" />
<line x1="56.5" y1="223" x2="60" y2="216" stroke="#666" stroke-width="0.8" />
<rect x="56.50" y="327.00" width="3.50" height="7.70" fill="#fff" stroke="#666" stroke-width="0.8" />
<line x1="56.5" y1="334.7" x2="60" y2="327" stroke="#666" stroke-width="0.8" />
<rect x="749.70" y="210.00" width="4.30" height="11.70" fill="#fff" stroke="#666" stroke-width="0.8" />
<line x1="749.7" y1="221.7" x2="754" y2="210" stroke="#666" stroke-width="0.8" />
<rect x="749.70" y="310.00" width="4.30" height="8.30" fill="#fff" stroke="#666" stroke-width="0.8" />
<line x1="749.7" y1="318.3" x2="754" y2="310" stroke="#666" stroke-width="0.8" />
<rect x="582.20" y="78.50" width="8.70" height="5.00" fill="#fff" stroke="#333" stroke-width="0.8" />
<line x1="582.2" y1="83.5" x2="590.9" y2="78.5" stroke="#333" stroke-width="0.8" />
<rect x="590.90" y="78.50" width="6.90" height="5.00" fill="none" stroke="#999" stroke-width="0.8" />
<rect x="621.20" y="78.50" width="9.50" height="5.00" fill="#fff" stroke="#333" stroke-width="0.8" />
<line x1="621.2" y1="78.5" x2="630.7" y2="83.5" stroke="#333" stroke-width="0.8" />
<rect x="630.70" y="78.50" width="4.90" height="5.00" fill="none" stroke="#999" stroke-width="0.8" />
<rect x="675.50" y="78.50" width="5.00" height="5.00" fill="none" stroke="#999" stroke-width="0.8" />
<polygon points="620.3,464.6 620.3,469 629.2,469" fill="#000"/>
<rect x="620.30" y="464.60" width="8.90" height="4.40" fill="none" stroke="#777" stroke-width="0.8" />
<polygon points="748.2,363 753.6,353.1 753.6,363" fill="#000"/>
<rect x="748.20" y="353.10" width="5.40" height="9.90" fill="none" stroke="#333" stroke-width="0.8" />
<rect x="181.00" y="464.00" width="9.00" height="3.50" fill="#fff" stroke="#666" stroke-width="0.8" />
<line x1="181" y1="467.5" x2="190" y2="464" stroke="#666" stroke-width="0.8" />
<rect x="248.00" y="432.00" width="4.00" height="8.00" fill="#fff" stroke="#888" stroke-width="0.8" />
<line x1="248" y1="440" x2="252" y2="432" stroke="#888" stroke-width="0.8" />
<line x1="253" y1="430" x2="253" y2="472" stroke="#000" stroke-width="2" />
<line x1="252.7" y1="431" x2="329.7" y2="431" stroke="#000" stroke-width="2" />
<line x1="291" y1="431" x2="291" y2="472" stroke="#000" stroke-width="2" />
<line x1="252.7" y1="471" x2="278.3" y2="471" stroke="#000" stroke-width="2" />
<line x1="289.4" y1="471" x2="329.7" y2="471" stroke="#000" stroke-width="2" />
<line x1="291" y1="447" x2="329.7" y2="447" stroke="#000" stroke-width="2" />
<line x1="330" y1="430" x2="330" y2="441.2" stroke="#000" stroke-width="2" />
<line x1="330" y1="445.2" x2="330" y2="449" stroke="#000" stroke-width="2" />
<line x1="330" y1="457.3" x2="330" y2="472" stroke="#000" stroke-width="2" />
<rect x="264.50" y="437.50" width="14.00" height="23.00" fill="none" stroke="#888" stroke-width="0.8" />
<circle cx="271.2" cy="441.5" r="1.8" fill="none" stroke="#444" stroke-width="0.7"/>
<path d="M268.3,444 L274.1,444 L274.1,451 L273,451 L273,458 L269.4,458 L269.4,451 L268.3,451 Z" fill="none" stroke="#444" stroke-width="0.7"/>
<line x1="271.5" y1="451" x2="271.5" y2="458" stroke="#444" stroke-width="0.6" />
<path d="M331.30,425 H331.95 A5.05,5.60 0 0 1 331.95,436.2 H331.30 Z" fill="none" stroke="#222" stroke-width="0.8"/>
<path d="M342.10,425 H341.45 A5.05,5.60 0 0 0 341.45,436.2 H342.10" fill="none" stroke="#222" stroke-width="0.8"/>
<line x1="342.10" y1="425" x2="342.10" y2="436.2" stroke="#999" stroke-width="1.4"/>
<path d="M343.10,425 H343.75 A5.05,5.60 0 0 1 343.75,436.2 H343.10 Z" fill="none" stroke="#222" stroke-width="0.8"/>
<path d="M353.90,425 H353.25 A5.05,5.60 0 0 0 353.25,436.2 H353.90" fill="none" stroke="#222" stroke-width="0.8"/>
<line x1="353.90" y1="425" x2="353.90" y2="436.2" stroke="#999" stroke-width="1.4"/>
<path d="M354.90,425 H355.55 A5.05,5.60 0 0 1 355.55,436.2 H354.90 Z" fill="none" stroke="#222" stroke-width="0.8"/>
<path d="M365.70,425 H365.05 A5.05,5.60 0 0 0 365.05,436.2 H365.70" fill="none" stroke="#222" stroke-width="0.8"/>
<line x1="365.70" y1="425" x2="365.70" y2="436.2" stroke="#999" stroke-width="1.4"/>
<path d="M331.30,457.5 H331.95 A5.05,5.75 0 0 1 331.95,469.0 H331.30 Z" fill="none" stroke="#222" stroke-width="0.8"/>
<path d="M342.10,457.5 H341.45 A5.05,5.75 0 0 0 341.45,469.0 H342.10" fill="none" stroke="#222" stroke-width="0.8"/>
<line x1="342.10" y1="457.5" x2="342.10" y2="469.0" stroke="#999" stroke-width="1.4"/>
<path d="M343.10,457.5 H343.75 A5.05,5.75 0 0 1 343.75,469.0 H343.10 Z" fill="none" stroke="#222" stroke-width="0.8"/>
<path d="M353.90,457.5 H353.25 A5.05,5.75 0 0 0 353.25,469.0 H353.90" fill="none" stroke="#222" stroke-width="0.8"/>
<line x1="353.90" y1="457.5" x2="353.90" y2="469.0" stroke="#999" stroke-width="1.4"/>
<path d="M354.90,457.5 H355.55 A5.05,5.75 0 0 1 355.55,469.0 H354.90 Z" fill="none" stroke="#222" stroke-width="0.8"/>
<path d="M365.70,457.5 H365.05 A5.05,5.75 0 0 0 365.05,469.0 H365.70" fill="none" stroke="#222" stroke-width="0.8"/>
<line x1="365.70" y1="457.5" x2="365.70" y2="469.0" stroke="#999" stroke-width="1.4"/>
<line x1="367" y1="431" x2="367" y2="439.5" stroke="#000" stroke-width="2" />
<line x1="367" y1="445.5" x2="367" y2="449" stroke="#000" stroke-width="2" />
<line x1="367" y1="456.3" x2="367" y2="471" stroke="#000" stroke-width="2" />
<line x1="367" y1="431" x2="480" y2="431" stroke="#000" stroke-width="2" />
<line x1="367" y1="448" x2="442" y2="448" stroke="#000" stroke-width="2" />
<line x1="367" y1="464" x2="442" y2="464" stroke="#000" stroke-width="2" />
<line x1="370.5" y1="432" x2="370.5" y2="447" stroke="#333" stroke-width="0.7" />
<line x1="371.5" y1="432" x2="371.5" y2="447" stroke="#333" stroke-width="0.7" />
<line x1="373.5" y1="432" x2="373.5" y2="447" stroke="#333" stroke-width="0.7" />
<line x1="375.5" y1="432" x2="375.5" y2="447" stroke="#333" stroke-width="0.7" />
<line x1="377.5" y1="432" x2="377.5" y2="447" stroke="#333" stroke-width="0.7" />
<line x1="379.5" y1="432" x2="379.5" y2="447" stroke="#333" stroke-width="0.7" />
<line x1="389.5" y1="432" x2="389.5" y2="447" stroke="#333" stroke-width="0.7" />
<line x1="391.5" y1="432" x2="391.5" y2="447" stroke="#333" stroke-width="0.7" />
<line x1="392.5" y1="432" x2="392.5" y2="447" stroke="#333" stroke-width="0.7" />
<line x1="394.5" y1="432" x2="394.5" y2="447" stroke="#333" stroke-width="0.7" />
<line x1="396.5" y1="432" x2="396.5" y2="447" stroke="#333" stroke-width="0.7" />
<line x1="398.5" y1="432" x2="398.5" y2="447" stroke="#333" stroke-width="0.7" />
<rect x="389.50" y="447.50" width="14.00" height="15.00" fill="none" stroke="#555" stroke-width="0.7" />
<line x1="389" y1="449.5" x2="403.5" y2="449.5" stroke="#555" stroke-width="0.7" />
<line x1="389" y1="451.5" x2="403.5" y2="451.5" stroke="#555" stroke-width="0.7" />
<line x1="389" y1="453.5" x2="403.5" y2="453.5" stroke="#555" stroke-width="0.7" />
<line x1="442" y1="430" x2="442" y2="440" stroke="#000" stroke-width="2" />
<line x1="442" y1="445.5" x2="442" y2="449" stroke="#000" stroke-width="2" />
<line x1="442" y1="456" x2="442" y2="472" stroke="#000" stroke-width="2" />
<path d="M443.00,425 H443.66 A5.14,5.60 0 0 1 443.66,436.2 H443.00 Z" fill="none" stroke="#222" stroke-width="0.8"/>
<path d="M454.00,425 H453.34 A5.14,5.60 0 0 0 453.34,436.2 H454.00" fill="none" stroke="#222" stroke-width="0.8"/>
<line x1="454.00" y1="425" x2="454.00" y2="436.2" stroke="#999" stroke-width="1.4"/>
<path d="M455.00,425 H455.66 A5.14,5.60 0 0 1 455.66,436.2 H455.00 Z" fill="none" stroke="#222" stroke-width="0.8"/>
<path d="M466.00,425 H465.34 A5.14,5.60 0 0 0 465.34,436.2 H466.00" fill="none" stroke="#222" stroke-width="0.8"/>
<line x1="466.00" y1="425" x2="466.00" y2="436.2" stroke="#999" stroke-width="1.4"/>
<path d="M467.00,425 H467.66 A5.14,5.60 0 0 1 467.66,436.2 H467.00 Z" fill="none" stroke="#222" stroke-width="0.8"/>
<path d="M478.00,425 H477.34 A5.14,5.60 0 0 0 477.34,436.2 H478.00" fill="none" stroke="#222" stroke-width="0.8"/>
<line x1="478.00" y1="425" x2="478.00" y2="436.2" stroke="#999" stroke-width="1.4"/>
<path d="M443.00,457.5 H443.66 A5.14,5.75 0 0 1 443.66,469.0 H443.00 Z" fill="none" stroke="#222" stroke-width="0.8"/>
<path d="M454.00,457.5 H453.34 A5.14,5.75 0 0 0 453.34,469.0 H454.00" fill="none" stroke="#222" stroke-width="0.8"/>
<line x1="454.00" y1="457.5" x2="454.00" y2="469.0" stroke="#999" stroke-width="1.4"/>
<path d="M455.00,457.5 H455.66 A5.14,5.75 0 0 1 455.66,469.0 H455.00 Z" fill="none" stroke="#222" stroke-width="0.8"/>
<path d="M466.00,457.5 H465.34 A5.14,5.75 0 0 0 465.34,469.0 H466.00" fill="none" stroke="#222" stroke-width="0.8"/>
<line x1="466.00" y1="457.5" x2="466.00" y2="469.0" stroke="#999" stroke-width="1.4"/>
<path d="M467.00,457.5 H467.66 A5.14,5.75 0 0 1 467.66,469.0 H467.00 Z" fill="none" stroke="#222" stroke-width="0.8"/>
<path d="M478.00,457.5 H477.34 A5.14,5.75 0 0 0 477.34,469.0 H478.00" fill="none" stroke="#222" stroke-width="0.8"/>
<line x1="478.00" y1="457.5" x2="478.00" y2="469.0" stroke="#999" stroke-width="1.4"/>
<line x1="480" y1="430" x2="480" y2="440" stroke="#000" stroke-width="2" />
<line x1="480" y1="456" x2="480" y2="472" stroke="#000" stroke-width="2" />
<line x1="480" y1="431" x2="556" y2="431" stroke="#000" stroke-width="2" />
<line x1="518" y1="431" x2="518" y2="472" stroke="#000" stroke-width="2" />
<line x1="556" y1="430" x2="556" y2="471" stroke="#000" stroke-width="2" />
<line x1="480" y1="471" x2="521" y2="471" stroke="#000" stroke-width="2" />
<line x1="530" y1="471" x2="556" y2="471" stroke="#000" stroke-width="2" />
<rect x="529.50" y="441.50" width="15.00" height="23.00" fill="none" stroke="#888" stroke-width="0.8" />
<circle cx="536.7" cy="444.5" r="1.8" fill="none" stroke="#444" stroke-width="0.7"/>
<path d="M534.5,447 L539,447 L541,455 L539.5,455 L539.5,462 L534,462 L534,455 L532.5,455 Z" fill="none" stroke="#444" stroke-width="0.7"/>
<rect x="547.50" y="426.50" width="10.00" height="4.00" fill="none" stroke="#aaa" stroke-width="0.8" />
<polygon points="343.85,478.3 358.05,488.15000000000003 347.35,488.15000000000003 347.35,493.85 340.35,493.85 340.35,488.15000000000003 329.65000000000003,488.15000000000003" fill="#000"/>
<polygon points="463.3,480.1 477.5,489.95000000000005 466.8,489.95000000000005 466.8,495.65000000000003 459.8,495.65000000000003 459.8,489.95000000000005 449.1,489.95000000000005" fill="#000"/>
<text x="382.60" y="494.80" font-size="10" font-weight="normal" fill="#000" letter-spacing="2.00">观众入口</text>
<text x="381.52" y="509.00" font-size="12" font-weight="400" textLength="47.46" lengthAdjust="spacingAndGlyphs">Entrance</text>
<g><rect x="238.5" y="470.5" width="13" height="5" fill="#fff" stroke="#666" stroke-width="0.9"/>
<path d="M238.6,475.4 V511.5 H236.3 V532.4 H311.3 V522 H250.8 V511.5 H241.8 V475.4" fill="none" stroke="#555" stroke-width="1"/>
<path d="M240.2,476 V513.2 H238 V530.8 H309.6 V523.6" fill="none" stroke="#bbb" stroke-width="0.8"/>
<path d="M311.3,524.7 H385 M311.3,528.2 H385" fill="none" stroke="#666" stroke-width="0.9"/>
<path d="M311.3,526.4 H385" fill="none" stroke="#ccc" stroke-width="0.8"/>
<path d="M385,522 V532.4 H404 M385,522 H404" fill="none" stroke="#555" stroke-width="1"/>
<path d="M386.8,523.6 V530.8 H404" fill="none" stroke="#bbb" stroke-width="0.8"/></g>
<g transform="translate(808,0) scale(-1,1)"><rect x="238.5" y="470.5" width="13" height="5" fill="#fff" stroke="#666" stroke-width="0.9"/>
<path d="M238.6,475.4 V511.5 H236.3 V532.4 H311.3 V522 H250.8 V511.5 H241.8 V475.4" fill="none" stroke="#555" stroke-width="1"/>
<path d="M240.2,476 V513.2 H238 V530.8 H309.6 V523.6" fill="none" stroke="#bbb" stroke-width="0.8"/>
<path d="M311.3,524.7 H385 M311.3,528.2 H385" fill="none" stroke="#666" stroke-width="0.9"/>
<path d="M311.3,526.4 H385" fill="none" stroke="#ccc" stroke-width="0.8"/>
<path d="M385,522 V532.4 H404 M385,522 H404" fill="none" stroke="#555" stroke-width="1"/>
<path d="M386.8,523.6 V530.8 H404" fill="none" stroke="#bbb" stroke-width="0.8"/></g>
</svg></body></html>
